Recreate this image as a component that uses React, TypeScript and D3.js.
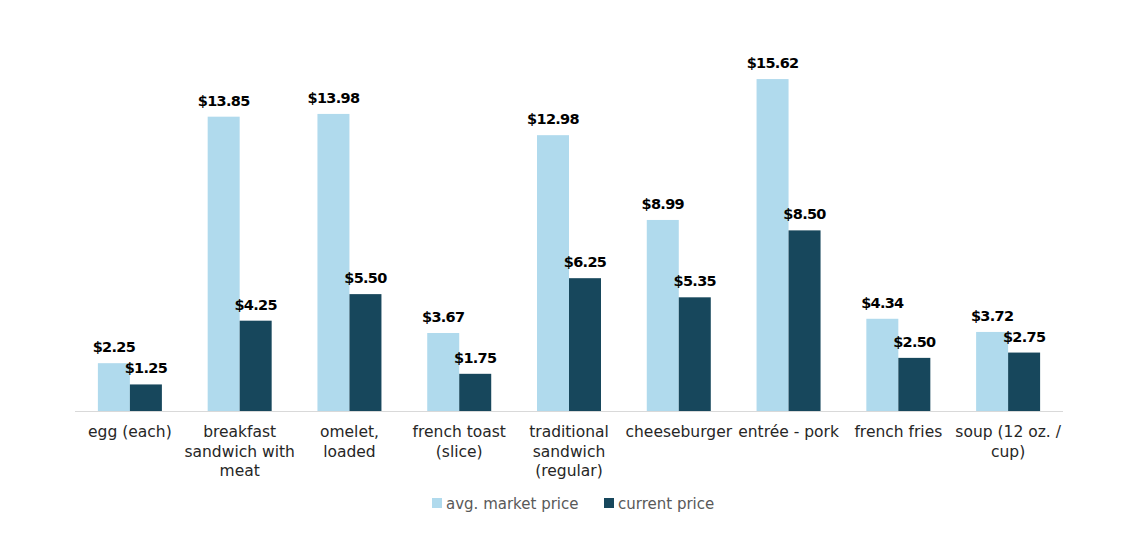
import React from "react";
import * as d3 from "d3";

const categories: string[][] = [
  ["egg (each)"],
  ["breakfast", "sandwich with", "meat"],
  ["omelet,", "loaded"],
  ["french toast", "(slice)"],
  ["traditional", "sandwich", "(regular)"],
  ["cheeseburger"],
  ["entrée - pork"],
  ["french fries"],
  ["soup (12 oz. /", "cup)"],
];
const avgMarket = [2.25, 13.85, 13.98, 3.67, 12.98, 8.99, 15.62, 4.34, 3.72];
const currentPrice = [1.25, 4.25, 5.5, 1.75, 6.25, 5.35, 8.5, 2.5, 2.75];
const seriesNames = ["avg. market price", "current price"];
const colors = ["#B0DAED", "#17475C"];

const W = 1131;
const H = 554;
const left = 75;
const right = 1063;
const baseline = 411;
const font = "'DejaVu Sans', sans-serif";

export default function App() {
  const idx = categories.map((_, i) => String(i));
  const x = d3.scaleBand<string>().domain(idx).range([left, right]).paddingInner(0).paddingOuter(0);
  const xs = d3.scaleBand<string>().domain(["0", "1"]).range([0, 64]);
  const y = d3.scaleLinear().domain([0, 16]).range([baseline, baseline - 16 * 21.25]);
  const series = [avgMarket, currentPrice];
  return (
    <svg width={W} height={H} style={{ position: "absolute", left: 0, top: 0, background: "#fff" }}>
      {series.map((vals, s) =>
        vals.map((v, i) => {
          const cx = (x(String(i)) as number) + x.bandwidth() / 2;
          const bx = cx - 32 + (xs(String(s)) as number);
          return (
            <g key={`${s}-${i}`}>
              <rect x={bx} y={y(v)} width={xs.bandwidth()} height={baseline - y(v)} fill={colors[s]} />
              <text
                x={bx + xs.bandwidth() / 2}
                y={y(v) - 11}
                textAnchor="middle"
                fontFamily={font}
                fontWeight="bold"
                fontSize={14.5}
                fill="#000"
                letterSpacing={-0.7}
              >
                {d3.format("$.2f")(v)}
              </text>
            </g>
          );
        })
      )}
      <line x1={left} x2={right} y1={baseline + 0.5} y2={baseline + 0.5} stroke="#D9D9D9" strokeWidth={1} />
      {categories.map((lines, i) => {
        const cx = (x(String(i)) as number) + x.bandwidth() / 2;
        return (
          <text key={i} textAnchor="middle" fontFamily={font} fontSize={15.5} fill="#262626">
            {lines.map((l, j) => (
              <tspan key={j} x={cx} y={437 + j * 19.5}>
                {l}
              </tspan>
            ))}
          </text>
        );
      })}
      <g fontFamily={font} fontSize={15} fill="#595959">
        <rect x={432} y={498} width={10} height={10} fill={colors[0]} />
        <text x={446} y={509}>{seriesNames[0]}</text>
        <rect x={604} y={498} width={10} height={10} fill={colors[1]} />
        <text x={618} y={509}>{seriesNames[1]}</text>
      </g>
    </svg>
  );
}
